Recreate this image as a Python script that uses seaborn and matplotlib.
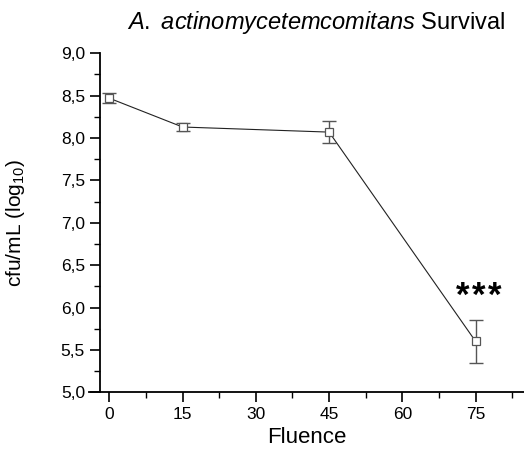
import numpy as np
import pandas as pd
import matplotlib
matplotlib.use("Agg")
import matplotlib.pyplot as plt
import seaborn as sns
from matplotlib.ticker import MultipleLocator, FuncFormatter

# Data
fluence = [0, 15, 45, 75]
log_cfu = [8.47, 8.13, 8.07, 5.60]
log_err = [0.06, 0.05, 0.13, 0.25]

df = pd.DataFrame({"Fluence": fluence, "cfu": log_cfu, "err": log_err})

sns.set_style("ticks", {"axes.edgecolor": "black", "text.color": "black",
                        "axes.labelcolor": "black", "xtick.color": "black",
                        "ytick.color": "black"})
plt.rcParams["font.family"] = ["Liberation Sans", "DejaVu Sans"]
plt.rcParams["mathtext.fontset"] = "custom"
plt.rcParams["mathtext.rm"] = "Liberation Sans"
plt.rcParams["mathtext.it"] = "Liberation Sans:italic"

fig = plt.figure(figsize=(5.24, 4.57), dpi=100)
ax = fig.add_axes([89.3 / 524, 0.1416, 1 - 89.3 / 524, 0.8834 - 0.1416])

# error bars
ax.errorbar(df["Fluence"], df["cfu"], yerr=df["err"], fmt="none",
            ecolor="#555555", elinewidth=1.0, capsize=5, capthick=1.0, zorder=2)

sns.lineplot(data=df, x="Fluence", y="cfu", ax=ax, color="#222222",
             linewidth=0.8, marker="s", markersize=6,
             markerfacecolor="white", markeredgecolor="#555555",
             markeredgewidth=0.9, zorder=3)

# significance mark, three spaced asterisks
for dx in (-16, 0, 16):
    ax.annotate("*", xy=(75.7, 6.02), xytext=(dx, 0), textcoords="offset pixels",
                ha="center", va="baseline", fontsize=25, fontweight="bold")

ax.set_xlim(-4.1, 84.9)
ax.set_ylim(5.0, 9.0)
ax.spines["left"].set_position(("data", -2))
ax.spines["top"].set_visible(False)
ax.spines["right"].set_visible(False)
for s in ["left", "bottom"]:
    ax.spines[s].set_linewidth(1.3)

ax.xaxis.set_major_locator(MultipleLocator(15))
ax.xaxis.set_minor_locator(MultipleLocator(7.5))
ax.yaxis.set_major_locator(MultipleLocator(0.5))
ax.yaxis.set_minor_locator(MultipleLocator(0.25))
ax.yaxis.set_major_formatter(FuncFormatter(lambda v, p: f"{v:.1f}".replace(".", ",")))
ax.tick_params(which="major", direction="out", length=7, width=1.2, labelsize=12.5)
ax.tick_params(which="minor", direction="out", length=4, width=1.0)

ax.set_xlabel("Fluence", fontsize=16)
ax.set_ylabel(r"cfu/mL (log$_{\mathregular{10}}$)", fontsize=15)
ax.yaxis.set_label_coords(-0.143, 0.5)
ax.text(0.523, 1.092, r"$\mathit{A.}$ $\mathit{actinomycetemcomitans}$ Survival",
        transform=ax.transAxes, ha="center", va="center", fontsize=17)

fig.savefig("out.png", dpi=100)
